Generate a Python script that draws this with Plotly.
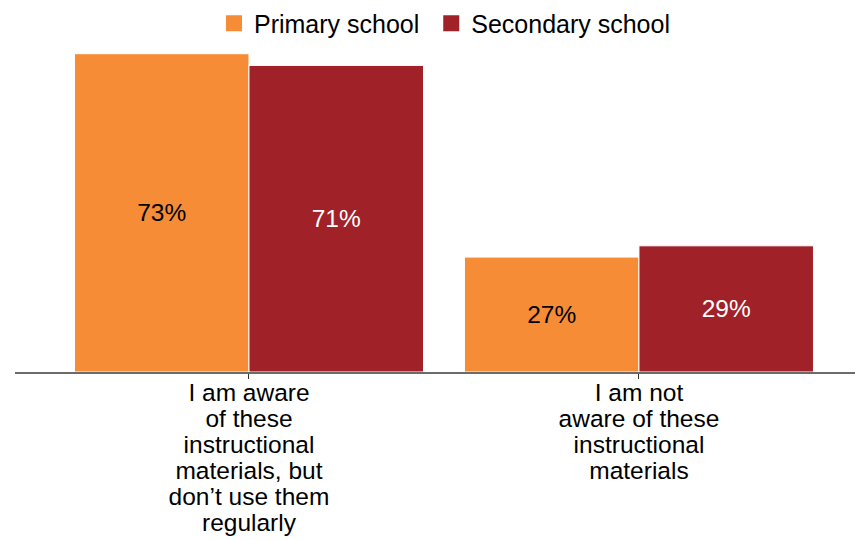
import plotly.graph_objects as go

categories = ["aware_not_regular", "not_aware"]
tick_lines = [
    ["I am aware", "of these", "instructional", "materials, but", "don\u2019t use them", "regularly"],
    ["I am not", "aware of these", "instructional", "materials"],
]
series_names = ["Primary school", "Secondary school"]
primary_values = [73.4, 26.5]
secondary_values = [70.7, 29.1]
primary_labels = ["73%", "27%"]
secondary_labels = ["71%", "29%"]

ORANGE = "#F68C35"
RED = "#A02128"
FONT = "Liberation Sans, Arial, Helvetica, sans-serif"
BIG = 24.5

ticktext = [
    "<br>".join(f'<span style="font-size:{BIG}px">{ln}</span>' for ln in lines)
    for lines in tick_lines
]

fig = go.Figure()
fig.add_trace(go.Bar(
    x=categories, y=primary_values, name=series_names[0], showlegend=False,
    marker=dict(color=ORANGE, line=dict(color="white", width=1)),
    text=primary_labels, textposition="inside", insidetextanchor="middle",
    textangle=0, constraintext="none",
    textfont=dict(color="black", size=BIG, family=FONT),
))
fig.add_trace(go.Bar(
    x=categories, y=secondary_values, name=series_names[1], showlegend=False,
    marker=dict(color=RED, line=dict(color="white", width=1)),
    text=secondary_labels, textposition="inside", insidetextanchor="middle",
    textangle=0, constraintext="none",
    textfont=dict(color="white", size=BIG, family=FONT),
))
# legend entries with larger square swatches
legend_pad = ["\u00a0", ""]
for nm, col, pad in zip(series_names, [ORANGE, RED], legend_pad):
    fig.add_trace(go.Scatter(
        x=[None], y=[None], mode="markers", name=nm + pad,
        marker=dict(symbol="square", size=18, color=col),
    ))

fig.update_layout(
    width=855, height=540,
    margin=dict(l=15, r=0, t=40, b=168),
    paper_bgcolor="white", plot_bgcolor="white",
    barmode="group", bargap=0.105, bargroupgap=0,
    font=dict(family=FONT, size=BIG, color="black"),
    legend=dict(
        orientation="h", x=0.2345 + 2 / 840, xanchor="left", y=1.056, yanchor="middle",
        font=dict(size=25, family=FONT, color="black"),
        itemsizing="trace", bgcolor="rgba(0,0,0,0)",
    ),
    xaxis=dict(
        type="category", range=[-0.6, 1.554],
        tickmode="array", tickvals=categories, ticktext=ticktext,
        showline=True, linecolor="#6b6b6b", linewidth=1.5,
        ticks="outside", ticklen=5, tickcolor="#333", tickwidth=1,
        tickfont=dict(size=20, family=FONT, color="black"),
        ticklabelstandoff=-2,
        showgrid=False, zeroline=False, automargin=False,
    ),
    yaxis=dict(
        range=[0, 76.1], visible=False, showgrid=False, zeroline=False,
    ),
)

fig.write_html("out.html")
